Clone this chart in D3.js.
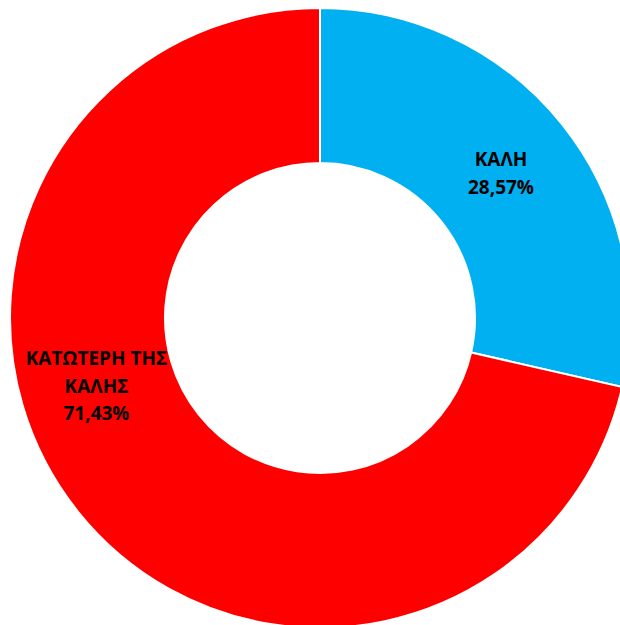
<!DOCTYPE html>
<html>
<head>
<meta charset="utf-8">
<script src="https://cdn.jsdelivr.net/npm/d3@7"></script>
<style>
  html, body { margin: 0; padding: 0; background: #fff; }
  svg { display: block; }
</style>
</head>
<body>
<svg id="chart" width="620" height="625"></svg>
<script>
// Rating categories and their counts
const categories = ["ΚΑΛΗ", "ΚΑΤΩΤΕΡΗ ΤΗΣ ΚΑΛΗΣ"];
const counts = [2, 5];
const percentLabels = ["28,57%", "71,43%"];
const colors = ["#00B0F0", "#FF0000"];

const svg = d3.select("#chart");
const cx = 320, cy = 318;
const outerR = 310, innerR = 155;

const pie = d3.pie().sort(null).value(d => d.value);
const data = categories.map((c, i) => ({ name: c, value: counts[i], pct: percentLabels[i], color: colors[i] }));
const arcs = pie(data);

const arc = d3.arc().innerRadius(innerR).outerRadius(outerR);

const g = svg.append("g").attr("transform", `translate(${cx},${cy})`);

g.selectAll("path.slice")
  .data(arcs)
  .join("path")
  .attr("class", "slice")
  .attr("d", arc)
  .attr("fill", d => d.data.color)
  .attr("stroke", "#fff")
  .attr("stroke-width", 2);

// Data labels: wrapped category name plus percentage, one block per slice
const labelLines = [
  [categories[0], percentLabels[0]],
  ["ΚΑΤΩΤΕΡΗ ΤΗΣ", "ΚΑΛΗΣ", percentLabels[1]]
];
// label block anchor (centre x, first baseline) relative to the donut centre
const labelAnchors = [[181, -152], [-223.5, 47]];
const lineH = 27.5;

arcs.forEach((a, i) => {
  const [x, y] = labelAnchors[i];
  const t = g.append("text")
    .attr("text-anchor", "middle")
    .attr("font-family", "'Open Sans', 'Noto Sans', sans-serif")
    .attr("font-weight", "bold")
    .attr("font-size", 19)
    .attr("fill", "#000");
  labelLines[i].forEach((ln, j) => {
    t.append("tspan")
      .attr("x", x)
      .attr("y", y + j * lineH)
      .text(ln);
  });
});
</script>
</body>
</html>
